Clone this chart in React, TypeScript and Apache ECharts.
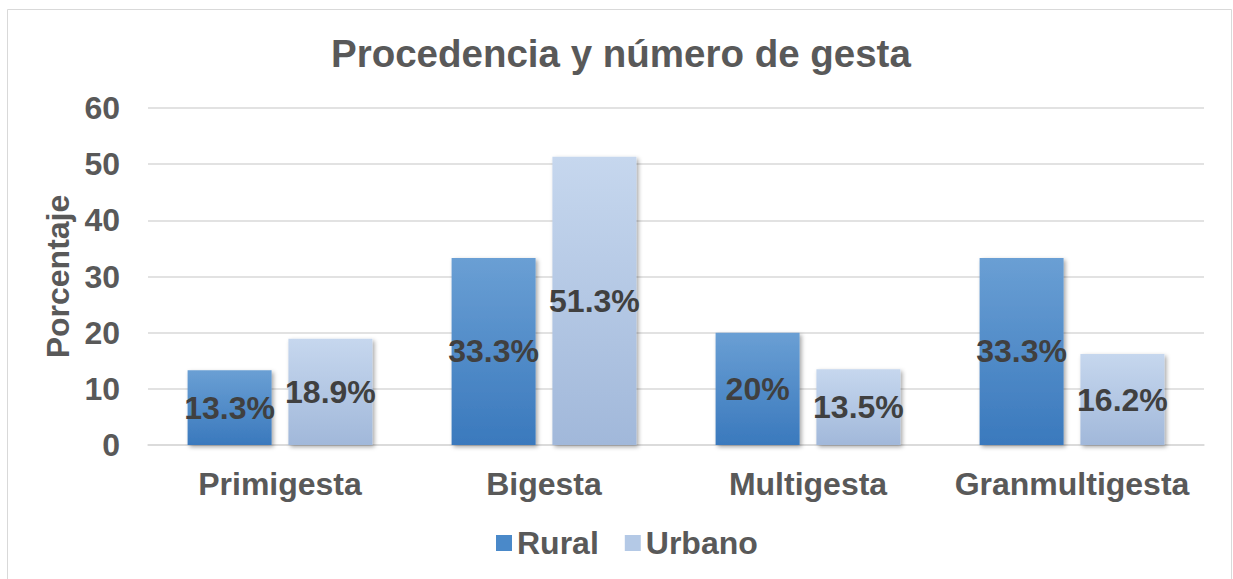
import React, { useEffect, useRef } from "react";
import * as echarts from "echarts";

const categories = ["Primigesta", "Bigesta", "Multigesta", "Granmultigesta"];
const rural = [13.3, 33.3, 20, 33.3];
const urbano = [18.9, 51.3, 13.5, 16.2];
const ruralLabels = ["13.3%", "33.3%", "20%", "33.3%"];
const urbanoLabels = ["18.9%", "51.3%", "13.5%", "16.2%"];

const FONT = "'Liberation Sans', Arial, sans-serif";

export default function App() {
  const ref = useRef<HTMLDivElement>(null);
  useEffect(() => {
    if (!ref.current) return;
    const chart = echarts.init(ref.current, null, { renderer: "svg" });
    const shadow = {
      shadowBlur: 4,
      shadowColor: "rgba(0,0,0,0.35)",
      shadowOffsetX: 2,
      shadowOffsetY: 2,
    };
    const labelStyle = {
      show: true,
      position: "inside" as const,
      fontSize: 32,
      fontWeight: "bold" as const,
      color: "#404040",
      fontFamily: FONT,
    };
    chart.setOption({
      animation: false,
      textStyle: { fontFamily: FONT },
      graphic: [
        {
          type: "rect",
          shape: { x: 7.5, y: 9.5, width: 1224, height: 580 },
          style: { fill: "none", stroke: "#d9d9d9", lineWidth: 1 },
          silent: true,
        },
      ],
      title: {
        text: "Procedencia y número de gesta",
        left: 326,
        top: 29,
        textStyle: { fontSize: 38.5, fontWeight: "bold", color: "#595959", fontFamily: FONT },
      },
      legend: {
        top: 522,
        left: 491,
        itemWidth: 16,
        itemHeight: 16,
        itemGap: 26,
        icon: "rect",
        textStyle: {
          fontSize: 32,
          fontWeight: "bold",
          color: "#595959",
          fontFamily: FONT,
        },
        data: [
          { name: "Rural", itemStyle: { color: "#4a89c9" } },
          { name: "Urbano", itemStyle: { color: "#b4c9e6" } },
        ],
      },
      grid: { left: 148, right: 29, top: 108, bottom: 134, containLabel: false },
      xAxis: {
        type: "category",
        data: categories,
        axisLine: { lineStyle: { color: "#d9d9d9", width: 1.5 } },
        axisTick: { show: false },
        axisLabel: {
          interval: 0,
          fontSize: 32,
          fontWeight: "bold",
          color: "#595959",
          margin: 23,
          fontFamily: FONT,
        },
      },
      yAxis: {
        type: "value",
        min: 0,
        max: 60,
        interval: 10,
        name: "Porcentaje",
        nameLocation: "middle",
        nameGap: 74,
        nameTextStyle: { fontSize: 32, fontWeight: "bold", color: "#595959", fontFamily: FONT },
        axisLine: { show: false },
        axisTick: { show: false },
        splitLine: { lineStyle: { color: "#d9d9d9", width: 1.5 } },
        axisLabel: {
          fontSize: 32,
          fontWeight: "bold",
          color: "#595959",
          margin: 28,
          fontFamily: FONT,
        },
      },
      series: [
        {
          name: "Rural",
          type: "bar",
          barWidth: 84,
          barGap: "20%",
          data: rural.map((v, i) => ({ value: v, label: { formatter: ruralLabels[i] } })),
          label: labelStyle,
          itemStyle: {
            ...shadow,
            color: new echarts.graphic.LinearGradient(0, 0, 0, 1, [
              { offset: 0, color: "#6a9fd4" },
              { offset: 1, color: "#3a79bd" },
            ]),
          },
        },
        {
          name: "Urbano",
          type: "bar",
          barWidth: 84,
          barGap: "20%",
          data: urbano.map((v, i) => ({ value: v, label: { formatter: urbanoLabels[i] } })),
          label: labelStyle,
          itemStyle: {
            ...shadow,
            color: new echarts.graphic.LinearGradient(0, 0, 0, 1, [
              { offset: 0, color: "#c6d7ee" },
              { offset: 1, color: "#a1b8da" },
            ]),
          },
        },
      ],
    });
    return () => chart.dispose();
  }, []);
  return (
    <div
      ref={ref}
      style={{ position: "fixed", left: 0, top: 0, width: 1233, height: 579, background: "#fff" }}
    />
  );
}
